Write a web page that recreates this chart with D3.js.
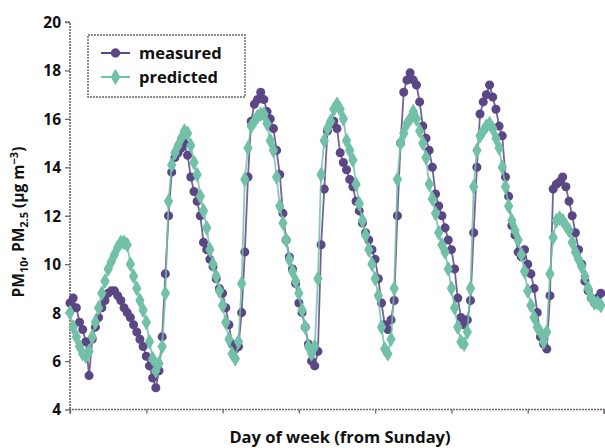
<!DOCTYPE html>
<html>
<head>
<meta charset="utf-8">
<script src="https://cdn.jsdelivr.net/npm/d3@7"></script>
<style>
  html, body { margin: 0; padding: 0; background: #fff; }
  svg { display: block; }
  text { font-family: "Open Sans", "Noto Sans", sans-serif; font-weight: 700; fill: #111; }
</style>
</head>
<body>
<script>
// Hourly PM concentrations over one week, starting Sunday 00:00
const seriesNames = ["measured", "predicted"];

const measured = [
  8.4, 8.6, 8.2, 7.6, 7.3, 6.8, 5.4, 6.9, 7.4, 7.8, 8.2, 8.5, 8.8, 8.9, 8.9, 8.7, 8.5, 8.2, 8.0, 7.8, 7.5, 7.2, 6.9, 6.6,
  6.2, 5.8, 5.3, 4.9, 5.6, 7.0, 9.6, 12.0, 13.8, 14.4, 14.6, 14.8, 15.0, 14.5, 13.6, 13.0, 12.6, 12.0, 10.9, 10.6, 10.2, 9.9, 9.4, 9.0,
  8.8, 8.2, 7.5, 6.7, 6.5, 6.6, 8.0, 10.5, 13.6, 15.9, 16.6, 16.8, 17.1, 16.8, 16.3, 16.0, 15.6, 14.7, 13.7, 12.1, 11.0, 10.3, 9.8, 9.2,
  8.4, 8.0, 7.4, 6.7, 6.0, 5.8, 6.4, 10.8, 13.1, 15.5, 15.8, 15.9, 15.6, 14.6, 14.2, 13.9, 13.5, 13.2, 12.6, 12.2, 11.7, 11.3, 11.0, 10.6,
  10.2, 9.4, 8.4, 7.5, 7.3, 7.7, 8.5, 12.0, 15.0, 17.1, 17.6, 17.9, 17.6, 17.4, 16.7, 15.7, 15.2, 14.7, 14.0, 12.9, 12.4, 12.0, 11.5, 11.0,
  10.6, 9.8, 8.6, 7.8, 7.5, 7.7, 8.5, 11.3, 14.0, 16.2, 16.7, 17.0, 17.4, 16.9, 16.4, 15.7, 15.3, 13.6, 12.8, 11.6, 11.2, 10.5, 10.3, 10.6,
  10.0, 9.6, 9.0, 8.0, 7.0, 6.7, 6.5, 8.7, 13.1, 13.3, 13.4, 13.6, 13.2, 12.6, 12.0, 11.3, 10.6, 10.0, 9.3, 8.9, 8.6, 8.4, 8.6, 8.8
];

const predicted = [
  8.0, 7.4, 7.0, 6.6, 6.3, 6.2, 6.4, 7.0, 7.6, 8.2, 8.8, 9.3, 9.8, 10.1, 10.4, 10.7, 10.9, 10.9, 10.8, 10.0, 9.5, 9.0, 8.5, 8.1,
  7.6, 6.8, 6.1, 5.6, 5.9, 6.6, 8.8, 12.6, 14.1, 14.6, 14.9, 15.2, 15.5, 15.4, 14.9, 14.2, 13.7, 12.8, 12.2, 11.5, 10.6, 10.0, 9.5, 8.9,
  8.3, 7.6, 6.9, 6.3, 6.1, 6.8, 9.2, 13.5, 14.8, 15.7, 15.9, 16.1, 16.2, 16.2, 15.8, 15.1, 14.7, 13.6, 12.4, 11.7, 11.0, 10.2, 9.7, 9.3,
  8.8, 8.1, 7.4, 6.6, 6.3, 6.6, 9.4, 13.7, 15.1, 15.6, 15.9, 16.4, 16.6, 16.4, 16.0, 15.1, 14.7, 14.3, 13.3, 12.5, 11.8, 11.2, 10.6, 10.0,
  9.4, 8.7, 7.4, 6.5, 6.3, 6.9, 9.0, 13.5, 15.0, 15.4, 15.8, 16.0, 16.3, 16.0, 15.5, 15.0, 14.4, 13.3, 12.7, 12.1, 11.3, 10.8, 10.5, 9.8,
  9.0, 8.2, 7.4, 6.8, 6.7, 7.2, 9.0, 13.2, 14.7, 15.3, 15.5, 15.7, 15.8, 15.6, 15.2, 14.8, 14.0, 13.2, 12.4, 11.8, 11.4, 11.0, 10.4, 9.7,
  8.9, 8.3, 7.8, 7.4, 7.2, 6.8, 7.2, 9.6, 11.1, 11.8, 11.9, 11.8, 11.6, 11.4, 10.9, 10.5, 10.2, 9.9, 9.5, 9.0, 8.6, 8.4, 8.4, 8.3
];

const yTicks = [4, 6, 8, 10, 12, 14, 16, 18, 20];
const dayTicks = [0, 24, 48, 72, 96, 120, 144, 168];

const colors = { measured: "#5a4784", predicted: "#72c0a8" };

const W = 605, H = 448;
const svg = d3.select("body").append("svg").attr("width", W).attr("height", H);

const x = d3.scaleLinear().domain([0, 168]).range([70, 604]);
const y = d3.scaleLinear().domain([4, 20]).range([409.5, 22]);

const axisColor = "#6f6360";

// y axis
const yAxis = svg.append("g").attr("transform", "translate(70,0)")
  .call(d3.axisLeft(y).tickValues(yTicks).tickSize(5).tickPadding(4));
yAxis.selectAll("text").style("font-size", "15.5px").attr("dy", "0.35em");

// x axis (day boundaries, unlabeled)
const xAxis = svg.append("g").attr("transform", "translate(0,409.5)")
  .call(d3.axisBottom(x).tickValues(dayTicks).tickSize(4).tickFormat(""));

[yAxis, xAxis].forEach(g => {
  g.select(".domain").attr("stroke", axisColor).attr("stroke-width", 1.6).attr("stroke-dasharray", "2,1");
  g.selectAll(".tick line").attr("stroke", axisColor).attr("stroke-width", 1.3);
});
yAxis.select(".domain").attr("d", `M-5,${y(20)}H0V${y(4)}`);
xAxis.select(".domain").attr("d", `M${x(0)},4V0H${x(168)}V4`);

// series: measured below, predicted on top
const line = d3.line().x((d, i) => x(i)).y(d => y(d));
const seriesData = { measured, predicted };
const symbols = { measured: d3.symbolCircle, predicted: d3.symbolDiamond };
const symbolSize = { measured: 46, predicted: 52 };

seriesNames.forEach(name => {
  const g = svg.append("g");
  g.append("path").datum(seriesData[name])
    .attr("d", line).attr("fill", "none")
    .attr("stroke", colors[name]).attr("stroke-width", 1.8).attr("stroke-opacity", 0.85);
  g.selectAll("path.pt").data(seriesData[name]).join("path")
    .attr("class", "pt")
    .attr("transform", (d, i) => `translate(${x(i)},${y(d)})`)
    .attr("d", d3.symbol().type(symbols[name]).size(symbolSize[name]))
    .attr("fill", colors[name]).attr("stroke", colors[name])
    .attr("stroke-width", 1.4).attr("stroke-linejoin", "round");
});

// legend
const lg = svg.append("g");
lg.append("rect").attr("x", 88).attr("y", 35).attr("width", 157).attr("height", 62)
  .attr("fill", "#fff").attr("stroke", axisColor).attr("stroke-width", 1.4).attr("stroke-dasharray", "2,1");
seriesNames.forEach((name, i) => {
  const cy = 53 + i * 24;
  lg.append("line").attr("x1", 101).attr("x2", 130).attr("y1", cy).attr("y2", cy)
    .attr("stroke", colors[name]).attr("stroke-width", 2);
  lg.append("path").attr("transform", `translate(115.5,${cy})`)
    .attr("d", d3.symbol().type(symbols[name]).size(symbolSize[name] + 6)())
    .attr("fill", colors[name]).attr("stroke", colors[name])
    .attr("stroke-width", 1.2).attr("stroke-linejoin", "round");
  lg.append("text").attr("x", 139).attr("y", cy).attr("dy", "0.35em")
    .style("font-size", "16.5px").text(name);
});

// axis titles
svg.append("text").attr("x", 340).attr("y", 443).attr("text-anchor", "middle")
  .style("font-size", "16.5px").text("Day of week (from Sunday)");

const yt = svg.append("text").attr("transform", "translate(24,222) rotate(-90)")
  .attr("text-anchor", "middle").style("font-size", "15.5px");
yt.append("tspan").text("PM");
yt.append("tspan").attr("dy", 4).style("font-size", "11px").text("10");
yt.append("tspan").attr("dy", -4).text(", PM");
yt.append("tspan").attr("dy", 4).style("font-size", "11px").text("2.5");
yt.append("tspan").attr("dy", -4).text(" (µg m");
yt.append("tspan").attr("dy", -6).style("font-size", "11px").text("−3");
yt.append("tspan").attr("dy", 6).text(")");
</script>
</body>
</html>
